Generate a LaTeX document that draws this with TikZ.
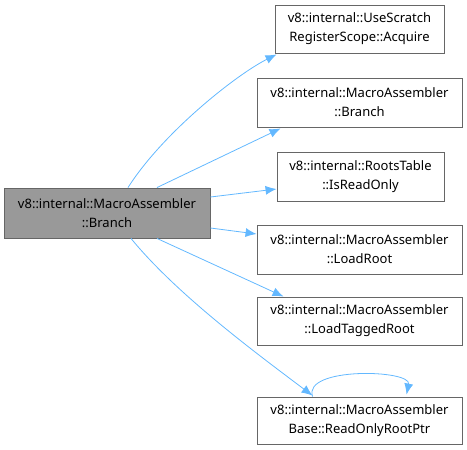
\documentclass[tikz,border=0pt]{standalone}
\usepackage{fontspec}
\setmainfont{Noto Sans}
\usetikzlibrary{arrows.meta}
\definecolor{edgeblue}{HTML}{63B8FF}
\definecolor{boxgray}{HTML}{999999}
\definecolor{linegray}{HTML}{666666}
\begin{document}
\begin{tikzpicture}[x=1pt,y=-1pt,
                fn/.style={draw=linegray,fill=white,line width=0.9pt,align=center,inner sep=0pt,
                    font=\fontsize{13}{19}\selectfont},
                call/.style={-{Latex[length=11pt,width=9pt]},draw=edgeblue,line width=0.8pt}]
                \useasboundingbox (0,0) rectangle (467,450);
                \node[fn,fill=boxgray,minimum width=206pt,minimum height=50pt] (branchmain) at (107,213)
                    {v8::internal::MacroAssembler\\::Branch};
                \node[fn,minimum width=169pt,minimum height=48pt] (acquire) at (359.5,29)
                    {v8::internal::UseScratch\\RegisterScope::Acquire};
                \node[fn,minimum width=205pt,minimum height=49pt] (branch) at (359.5,102.5)
                    {v8::internal::MacroAssembler\\::Branch};
                \node[fn,minimum width=167pt,minimum height=49pt] (isro) at (360.5,176.5)
                    {v8::internal::RootsTable\\::IsReadOnly};
                \node[fn,minimum width=205pt,minimum height=49pt] (loadroot) at (359.5,249.5)
                    {v8::internal::MacroAssembler\\::LoadRoot};
                \node[fn,minimum width=205pt,minimum height=48pt] (loadtagged) at (359.5,321)
                    {v8::internal::MacroAssembler\\::LoadTaggedRoot};
                \node[fn,minimum width=205pt,minimum height=47pt] (rootptr) at (359.5,420.5)
                    {v8::internal::MacroAssembler\\Base::ReadOnlyRootPtr};
                \draw[call] ([xshift=21pt]branchmain.north) .. controls +(35,-55) and +(-40,20) .. ([xshift=2pt,yshift=-1pt]acquire.south west);
                \draw[call] ([xshift=50pt]branchmain.north) -- ([xshift=24pt,yshift=-1pt]branch.south west);
                \draw[call] (branchmain.east |- 0,197) -- (isro.west |- 0,189);
                \draw[call] (branchmain.east |- 0,228) -- (loadroot.west |- 0,234);
                \draw[call] ([xshift=50pt]branchmain.south) -- ([xshift=27pt]loadtagged.north west);
                \draw[call] ([xshift=24pt]branchmain.south) .. controls +(45,55) and +(-60,-45) .. ([xshift=56pt,yshift=1pt]rootptr.north west);
                \draw[call] ([xshift=56pt]rootptr.north west) .. controls +(-10,-30) and +(5,-25) .. ([xshift=150pt,yshift=2pt]rootptr.north west);
            \end{tikzpicture}
\end{document}
